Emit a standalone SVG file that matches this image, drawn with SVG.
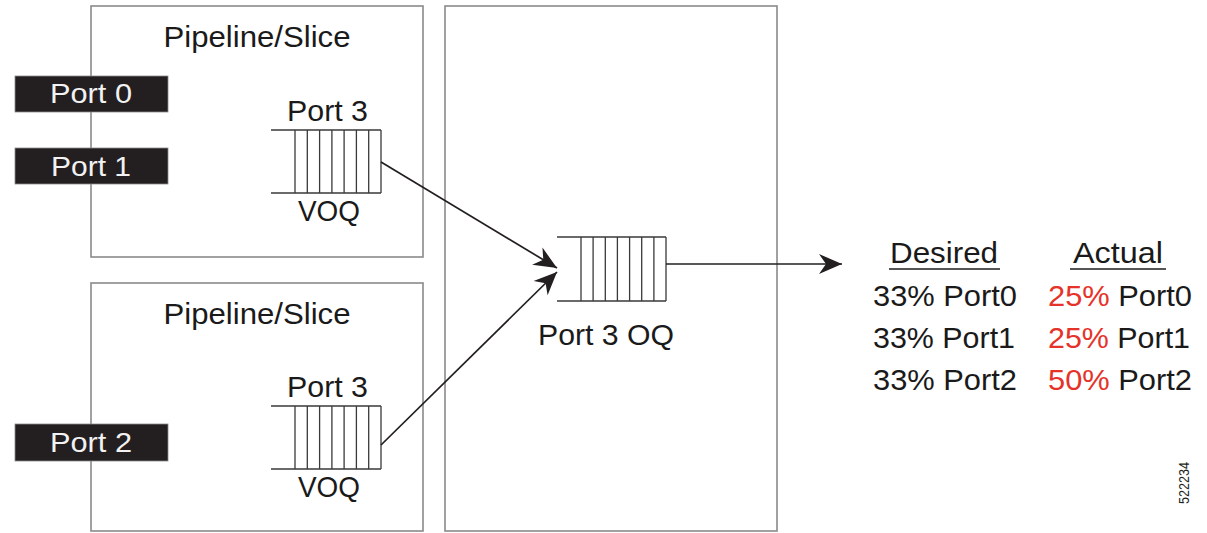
<svg xmlns="http://www.w3.org/2000/svg" width="1207" height="533" viewBox="0 0 1207 533">
  <style>
    .box { fill: none; stroke: #8a8a8a; stroke-width: 1.6; }
    .q { fill: none; stroke: #3a3a3a; stroke-width: 1.3; }
    .port { fill: #231f20; stroke: #8a8a8a; stroke-width: 0.8; }
    .t { font-family: "Liberation Sans", Arial, sans-serif; font-size: 29px; fill: #1a1a1a; }
    .pt { font-family: "Liberation Sans", Arial, sans-serif; font-size: 28px; fill: #f2f2f2; text-anchor: middle; }
    .red { fill: #e5332a; }
    .conn { fill: none; stroke: #231f20; stroke-width: 1.7; }
    .ul { stroke: #555; stroke-width: 2; }
  </style>
  <defs>
    <marker id="ah" markerUnits="userSpaceOnUse" viewBox="-25 -11 27 22" refX="0" refY="0" markerWidth="27" markerHeight="22" orient="auto">
      <path d="M0,0 L-23,-10 L-16,0 L-23,10 Z" fill="#231f20"/>
    </marker>
  </defs>
  <rect width="1207" height="533" fill="#ffffff"/>

  <g id="slice-top">
    <rect class="box" x="91" y="6" width="332" height="251"/>
    <text class="t" x="257" y="46.5" text-anchor="middle" textLength="187" lengthAdjust="spacingAndGlyphs">Pipeline/Slice</text>
  </g>
  <g id="slice-bottom">
    <rect class="box" x="91" y="283" width="332" height="248"/>
    <text class="t" x="257" y="323.5" text-anchor="middle" textLength="187" lengthAdjust="spacingAndGlyphs">Pipeline/Slice</text>
  </g>
  <g id="egress">
    <rect class="box" x="445" y="6" width="332" height="525"/>
  </g>

  <g id="port0">
    <rect class="port" x="15" y="76" width="153" height="36"/>
    <text class="pt" x="91" y="103" textLength="82" lengthAdjust="spacingAndGlyphs">Port 0</text>
  </g>
  <g id="port1">
    <rect class="port" x="15" y="148" width="153" height="36"/>
    <text class="pt" x="91" y="175.5" textLength="80" lengthAdjust="spacingAndGlyphs">Port 1</text>
  </g>
  <g id="port2">
    <rect class="port" x="15" y="424" width="153" height="37"/>
    <text class="pt" x="91" y="452" textLength="82" lengthAdjust="spacingAndGlyphs">Port 2</text>
  </g>

  <g id="voq-top">
    <text class="t" x="327.5" y="121" text-anchor="middle" textLength="81" lengthAdjust="spacingAndGlyphs">Port 3</text>
    <path class="q" d="M271,130 H381 M271,193 H381 M295,130 V193 M307.3,130 V193 M319.6,130 V193 M331.9,130 V193 M344.1,130 V193 M356.4,130 V193 M368.7,130 V193 M381,130 V193"/>
    <text class="t" x="329" y="220.5" text-anchor="middle" textLength="62" lengthAdjust="spacingAndGlyphs">VOQ</text>
  </g>
  <g id="voq-bottom">
    <text class="t" x="327.5" y="397" text-anchor="middle" textLength="81" lengthAdjust="spacingAndGlyphs">Port 3</text>
    <path class="q" d="M271,406 H381 M271,469 H381 M295,406 V469 M307.3,406 V469 M319.6,406 V469 M331.9,406 V469 M344.1,406 V469 M356.4,406 V469 M368.7,406 V469 M381,406 V469"/>
    <text class="t" x="329" y="496.5" text-anchor="middle" textLength="62" lengthAdjust="spacingAndGlyphs">VOQ</text>
  </g>
  <g id="oq">
    <path class="q" d="M557,237 H666 M557,301 H666 M581,237 V301 M593.1,237 V301 M605.3,237 V301 M617.4,237 V301 M629.6,237 V301 M641.7,237 V301 M653.9,237 V301 M666,237 V301"/>
    <text class="t" x="606" y="344.5" text-anchor="middle" textLength="136" lengthAdjust="spacingAndGlyphs">Port 3 OQ</text>
  </g>

  <g id="connectors">
    <line class="conn" x1="381" y1="162" x2="557" y2="268" marker-end="url(#ah)"/>
    <line class="conn" x1="381" y1="445" x2="557" y2="272" marker-end="url(#ah)"/>
    <line class="conn" x1="666" y1="264" x2="842" y2="264" marker-end="url(#ah)"/>
  </g>

  <g id="table">
    <text class="t" x="944" y="263" text-anchor="middle" textLength="108" lengthAdjust="spacingAndGlyphs">Desired</text>
    <line class="ul" x1="889" y1="269" x2="1000" y2="269"/>
    <text class="t" x="1118" y="263" text-anchor="middle" textLength="90" lengthAdjust="spacingAndGlyphs">Actual</text>
    <line class="ul" x1="1070" y1="269" x2="1166" y2="269"/>
    <text class="t" x="873" y="305.5" textLength="144" lengthAdjust="spacingAndGlyphs">33% Port0</text>
    <text class="t" x="873" y="347.5" textLength="142" lengthAdjust="spacingAndGlyphs">33% Port1</text>
    <text class="t" x="873" y="389.5" textLength="144" lengthAdjust="spacingAndGlyphs">33% Port2</text>
    <text class="t" x="1048" y="305.5" textLength="144" lengthAdjust="spacingAndGlyphs"><tspan class="red">25%</tspan> Port0</text>
    <text class="t" x="1048" y="347.5" textLength="142" lengthAdjust="spacingAndGlyphs"><tspan class="red">25%</tspan> Port1</text>
    <text class="t" x="1048" y="389.5" textLength="144" lengthAdjust="spacingAndGlyphs"><tspan class="red">50%</tspan> Port2</text>
  </g>

  <text transform="translate(1189,504) rotate(-90)" style="font-family: 'Liberation Sans', Arial, sans-serif; font-size: 14px; fill: #231f20;" textLength="42" lengthAdjust="spacingAndGlyphs">522234</text>
</svg>
